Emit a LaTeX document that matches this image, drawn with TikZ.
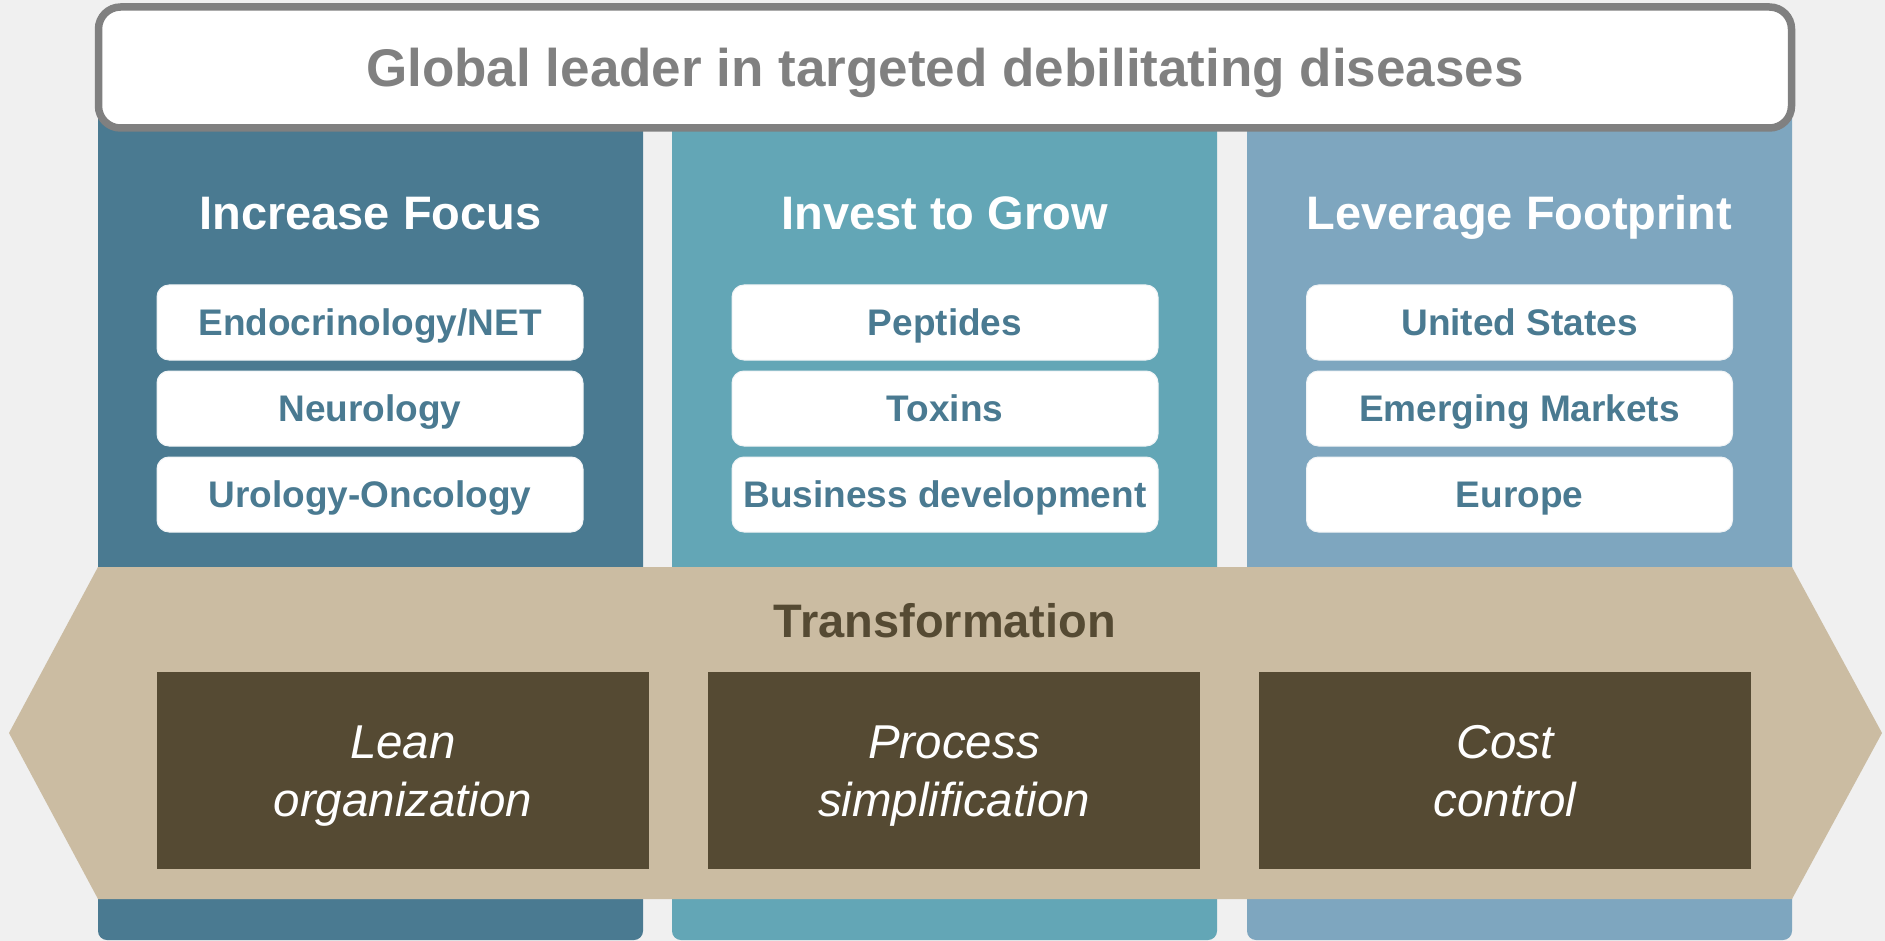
\documentclass[tikz,border=0pt]{standalone}
\usepackage{fontspec}
\setmainfont{Liberation Sans}
\definecolor{pagebg}{HTML}{F0F0F0}
\definecolor{colA}{HTML}{4A7A91}
\definecolor{colB}{HTML}{63A6B6}
\definecolor{colC}{HTML}{7EA6BF}
\definecolor{sand}{HTML}{CBBCA2}
\definecolor{umber}{HTML}{554A33}
\definecolor{frame}{HTML}{808080}
\definecolor{itemtxt}{HTML}{4A7A91}
\tikzset{
  banner/.style={draw=frame, line width=7.5pt, rounded corners=22pt, fill=white,
    minimum width=1693pt, minimum height=121pt, inner sep=0pt,
    text height=38pt, text depth=0pt, text=frame,
    font=\fontsize{53}{60}\selectfont\bfseries},
  coltitle/.style={text=white, inner sep=0pt, text height=34pt, text depth=0pt,
    font=\fontsize{47}{54}\selectfont\bfseries},
  item/.style={fill=white, draw=white!92!colA, line width=1pt, rounded corners=12pt,
    minimum width=426pt, minimum height=75pt, inner sep=0pt,
    text height=26.5pt, text depth=0pt, text=itemtxt,
    font=\fontsize{37}{42}\selectfont\bfseries},
  transtitle/.style={text=umber, inner sep=0pt, text height=34pt, text depth=0pt,
    font=\fontsize{47}{54}\selectfont\bfseries},
  lever/.style={fill=umber, minimum width=492pt, minimum height=197pt, inner sep=0pt,
    text=white, align=center, text height=92pt, text depth=0pt,
    font=\fontsize{47.5}{58}\selectfont\itshape}
}
\begin{document}
\begin{tikzpicture}[x=1pt, y=-1pt]
  % page
  \fill[pagebg] (0,0) rectangle (1885,941);
  \useasboundingbox (0,0) rectangle (1885,941);

  % three pillars
  \fill[colA, rounded corners=9pt] (98,100) rectangle (643,940);
  \fill[colB, rounded corners=9pt] (672,100) rectangle (1217,940);
  \fill[colC, rounded corners=9pt] (1247,100) rectangle (1792,940);

  % headline banner
  \node[banner] (head) at (945,67.5) {Global leader in targeted debilitating diseases};

  % pillar titles
  \node[coltitle] (focus) at (370.5,213) {Increase Focus};
  \node[coltitle] (grow) at (944.5,213) {Invest to Grow};
  \node[coltitle] (foot) at (1519.5,213) {Leverage Footprint};

  % pillar items
  \node[item] (a1) at (370,322.5) {Endocrinology/NET};
  \node[item] (a2) at (370,408.5) {Neurology};
  \node[item] (a3) at (370,494.5) {Urology-Oncology};
  \node[item] (b1) at (945,322.5) {Peptides};
  \node[item] (b2) at (945,408.5) {Toxins};
  \node[item] (b3) at (945,494.5) {Business development};
  \node[item] (c1) at (1519.5,322.5) {United States};
  \node[item] (c2) at (1519.5,408.5) {Emerging Markets};
  \node[item] (c3) at (1519.5,494.5) {Europe};

  % transformation band
  \fill[sand] (98,567) -- (1792,567) -- (1882,733) -- (1792,899) -- (98,899) -- (9,733) -- cycle;
  \node[transtitle] (trans) at (945,620) {Transformation};

  % levers
  \node[lever] (l1) at (403,770.5) {Lean\\organization};
  \node[lever] (l2) at (954,770.5) {Process\\simplification};
  \node[lever] (l3) at (1505,770.5) {Cost\\control};
\end{tikzpicture}
\end{document}
